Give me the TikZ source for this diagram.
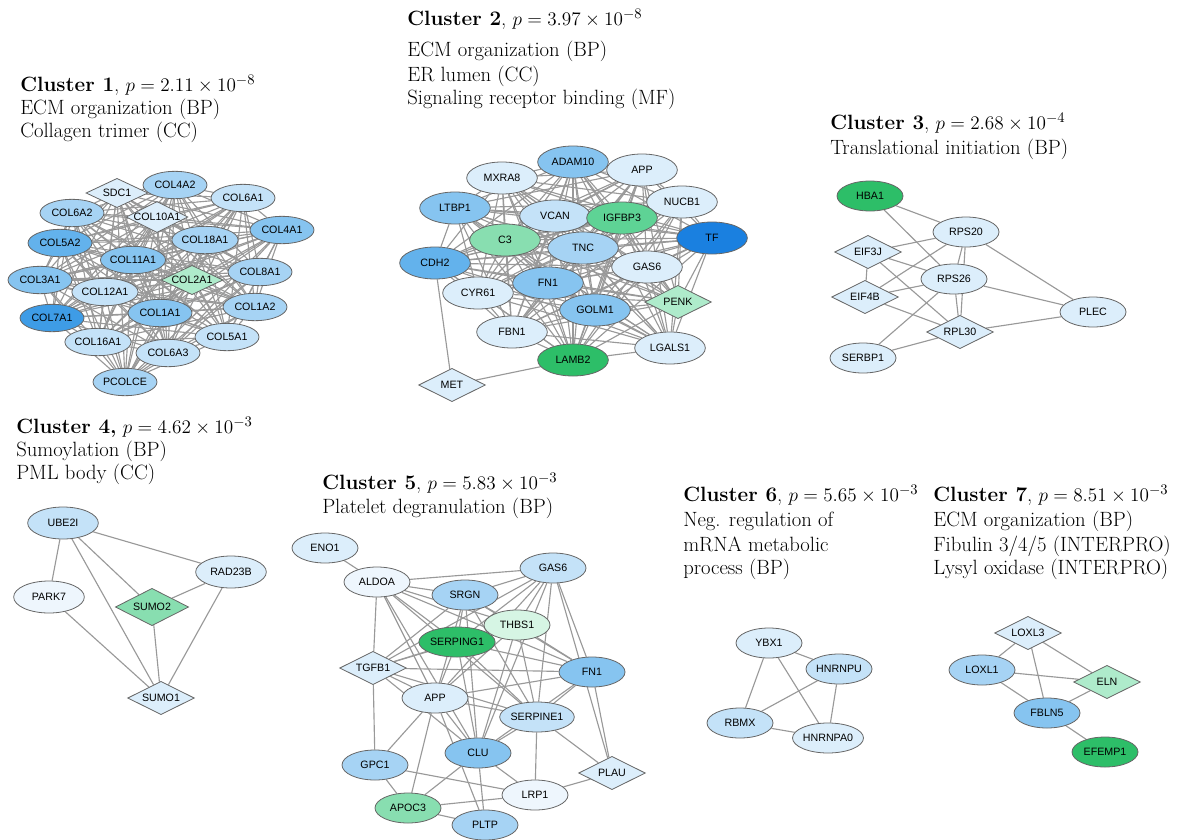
\documentclass[tikz,border=0pt]{standalone}
\usepackage{fontspec}
\newfontfamily\genefont{Liberation Sans}
\usetikzlibrary{shapes.geometric,backgrounds}

\definecolor{blue0}{HTML}{EEF6FD}
\definecolor{blue1}{HTML}{DCEEFB}
\definecolor{blue2}{HTML}{C4E2F8}
\definecolor{blue3}{HTML}{A6D3F4}
\definecolor{blue4}{HTML}{86C4F0}
\definecolor{blue5}{HTML}{63B2EC}
\definecolor{blue6}{HTML}{3E9CE6}
\definecolor{blue7}{HTML}{1A80E0}
\definecolor{green1}{HTML}{D6F5E4}
\definecolor{green2}{HTML}{AEEBCB}
\definecolor{green3}{HTML}{88DEB0}
\definecolor{green4}{HTML}{5ED395}
\definecolor{green5}{HTML}{2DBE68}

\tikzset{
  gene/.style={ellipse, draw=black!60, line width=0.6pt, inner sep=0pt,
    minimum width=49.5pt, minimum height=22.5pt, font=\genefont\fontsize{8}{9}\selectfont},
  genesmall/.style={gene, minimum width=48pt, minimum height=20.5pt},
  genebig/.style={gene, minimum width=53pt, minimum height=24pt},
  genedia/.style={gene, diamond, aspect=2, minimum width=50pt, minimum height=25pt},
  genediasmall/.style={genedia, minimum width=46.5pt, minimum height=22pt},
  genediabig/.style={genedia, minimum width=55pt, minimum height=28pt},
  link/.style={draw=black!40, line width=0.85pt},
  title/.style={anchor=base west, inner sep=0pt, font=\fontsize{15.5}{18}\selectfont},
}

\def\clusterone{SDC1,COL4A2,COL6A1,COL6A2,COL10A1,COL4A1,COL18A1,COL5A2,COL11A1,COL3A1,COL2A1,COL8A1,COL12A1,COL1A1,COL1A2,COL7A1,COL16A1,COL5A1,COL6A3,PCOLCE}
\def\clustertwo{ADAM10,APP,MXRA8,NUCB1,LTBP1,VCAN,IGFBP3,C3,TF,TNC,CDH2,GAS6,FN1,CYR61,PENK,GOLM1,FBN1,LGALS1,LAMB2}

\begin{document}
\begin{tikzpicture}[x=0.75pt,y=-0.75pt]
\useasboundingbox (0,0) rectangle (1195,839);

% titles
\node[title] (t1a) at (20,91) {\textbf{Cluster 1}, $p = 2.11 \times 10^{-8}$};
\node[title] (t1b) at (20,114) {ECM organization (BP)};
\node[title] (t1c) at (20,137) {Collagen trimer (CC)};
\node[title] (t2a) at (407,25) {\textbf{Cluster 2}, $p = 3.97 \times 10^{-8}$};
\node[title] (t2b) at (407,56) {ECM organization (BP)};
\node[title] (t2c) at (407,81) {ER lumen (CC)};
\node[title] (t2d) at (407,104) {Signaling receptor binding (MF)};
\node[title] (t3a) at (830,129) {\textbf{Cluster 3}, $p = 2.68 \times 10^{-4}$};
\node[title] (t3b) at (830,154) {Translational initiation (BP)};
\node[title] (t4a) at (16,433) {\textbf{Cluster 4,} $p = 4.62 \times 10^{-3}$};
\node[title] (t4b) at (16,456) {Sumoylation (BP)};
\node[title] (t4c) at (16,479) {PML body (CC)};
\node[title] (t5a) at (322,489) {\textbf{Cluster 5}, $p = 5.83 \times 10^{-3}$};
\node[title] (t5b) at (322,513) {Platelet degranulation (BP)};
\node[title] (t6a) at (683,501) {\textbf{Cluster 6}, $p = 5.65 \times 10^{-3}$};
\node[title] (t6b) at (683,526) {Neg. regulation of};
\node[title] (t6c) at (683,551) {mRNA metabolic};
\node[title] (t6d) at (683,574) {process (BP)};
\node[title] (t7a) at (933,501) {\textbf{Cluster 7}, $p = 8.51 \times 10^{-3}$};
\node[title] (t7b) at (933,526) {ECM organization (BP)};
\node[title] (t7c) at (933,551) {Fibulin 3/4/5 (INTERPRO)};
\node[title] (t7d) at (933,574) {Lysyl oxidase (INTERPRO)};

% cluster 1
\node[genediasmall, fill=blue1] (SDC1) at (117,193) {SDC1};
\node[genesmall, fill=blue3] (COL4A2) at (175,185) {COL4A2};
\node[genesmall, fill=blue2] (COL6A1) at (243,198) {COL6A1};
\node[genesmall, fill=blue3] (COL6A2) at (72,213) {COL6A2};
\node[genediasmall, fill=blue1] (COL10A1) at (157,217) {COL10A1};
\node[genesmall, fill=blue4] (COL4A1) at (282,230) {COL4A1};
\node[genesmall, fill=blue3] (COL18A1) at (205,240) {COL18A1};
\node[genesmall, fill=blue5] (COL5A2) at (60,243) {COL5A2};
\node[genesmall, fill=blue4] (COL11A1) at (133,260) {COL11A1};
\node[genesmall, fill=blue4] (COL3A1) at (40,280) {COL3A1};
\node[genediasmall, fill=green2] (COL2A1) at (192,280) {COL2A1};
\node[genesmall, fill=blue3] (COL8A1) at (260,272) {COL8A1};
\node[genesmall, fill=blue2] (COL12A1) at (105,292) {COL12A1};
\node[genesmall, fill=blue4] (COL1A1) at (160,313) {COL1A1};
\node[genesmall, fill=blue3] (COL1A2) at (255,307) {COL1A2};
\node[genesmall, fill=blue6] (COL7A1) at (52,318) {COL7A1};
\node[genesmall, fill=blue2] (COL16A1) at (98,342) {COL16A1};
\node[genesmall, fill=blue2] (COL5A1) at (227,337) {COL5A1};
\node[genesmall, fill=blue2] (COL6A3) at (168,353) {COL6A3};
\node[genesmall, fill=blue3] (PCOLCE) at (125,382) {PCOLCE};

% cluster 2
\node[genebig, fill=blue4] (ADAM10) at (573,162) {ADAM10};
\node[genebig, fill=blue1] (APP) at (642,170) {APP};
\node[genebig, fill=blue1] (MXRA8) at (502,178) {MXRA8};
\node[genebig, fill=blue1] (NUCB1) at (682,202) {NUCB1};
\node[genebig, fill=blue4] (LTBP1) at (455,208) {LTBP1};
\node[genebig, fill=blue2] (VCAN) at (555,216) {VCAN};
\node[genebig, fill=green4] (IGFBP3) at (622,218) {IGFBP3};
\node[genebig, fill=green3] (C3) at (505,240) {C3};
\node[genebig, fill=blue7] (TF) at (712,238) {TF};
\node[genebig, fill=blue3] (TNC) at (583,248) {TNC};
\node[genebig, fill=blue5] (CDH2) at (435,263) {CDH2};
\node[genebig, fill=blue1] (GAS6) at (647,267) {GAS6};
\node[genebig, fill=blue4] (FN1) at (548,283) {FN1};
\node[genebig, fill=blue1] (CYR61) at (478,293) {CYR61};
\node[genedia, fill=green2] (PENK) at (678,302) {PENK};
\node[genebig, fill=blue4] (GOLM1) at (595,310) {GOLM1};
\node[genebig, fill=blue1] (FBN1) at (512,332) {FBN1};
\node[genebig, fill=blue1] (LGALS1) at (670,348) {LGALS1};
\node[genebig, fill=green5] (LAMB2) at (573,360) {LAMB2};
\node[genedia, fill=blue1] (MET) at (452,385) {MET};

% cluster 3
\node[gene, fill=green5] (HBA1) at (870,196) {HBA1};
\node[gene, fill=blue1] (RPS20) at (966,232) {RPS20};
\node[genedia, fill=blue1] (EIF3J) at (868,252) {EIF3J};
\node[gene, fill=blue1] (RPS26) at (954,279) {RPS26};
\node[genedia, fill=blue1] (EIF4B) at (865,297) {EIF4B};
\node[gene, fill=blue1] (PLEC) at (1093,312) {PLEC};
\node[genedia, fill=blue1] (RPL30) at (960,332) {RPL30};
\node[gene, fill=blue1] (SERBP1) at (863,358) {SERBP1};

% cluster 4
\node[genebig, fill=blue2] (UBE2I) at (63,523) {UBE2I};
\node[genebig, fill=blue1] (RAD23B) at (231,572) {RAD23B};
\node[genebig, fill=blue0] (PARK7) at (49,597) {PARK7};
\node[genediabig, fill=green3] (SUMO2) at (152,607) {SUMO2};
\node[genedia, fill=blue1] (SUMO1) at (161,698) {SUMO1};

% cluster 5
\node[gene, fill=blue1] (ENO1) at (325,548) {ENO1};
\node[gene, fill=blue2] (GAS6b) at (553,568) {GAS6};
\node[gene, fill=blue0] (ALDOA) at (377,582) {ALDOA};
\node[gene, fill=blue3] (SRGN) at (465,595) {SRGN};
\node[gene, fill=green1] (THBS1) at (517,625) {THBS1};
\node[gene, fill=green5] (SERPING1) at (457,642) {SERPING1};
\node[genedia, fill=blue1] (TGFB1) at (373,668) {TGFB1};
\node[gene, fill=blue4] (FN1b) at (592,672) {FN1};
\node[gene, fill=blue1] (APPb) at (435,698) {APP};
\node[gene, fill=blue2] (SERPINE1) at (537,717) {SERPINE1};
\node[gene, fill=blue4] (CLU) at (478,753) {CLU};
\node[gene, fill=blue3] (GPC1) at (375,765) {GPC1};
\node[genedia, fill=blue1] (PLAU) at (612,773) {PLAU};
\node[gene, fill=blue0] (LRP1) at (535,795) {LRP1};
\node[gene, fill=green3] (APOC3) at (408,808) {APOC3};
\node[gene, fill=blue3] (PLTP) at (485,825) {PLTP};

% cluster 6
\node[gene, fill=blue1] (YBX1) at (769,643) {YBX1};
\node[gene, fill=blue2] (HNRNPU) at (839,669) {HNRNPU};
\node[gene, fill=blue2] (RBMX) at (740,723) {RBMX};
\node[gene, fill=blue1] (HNRNPA0) at (828,738) {HNRNPA0};

% cluster 7
\node[genedia, fill=blue1] (LOXL3) at (1028,633) {LOXL3};
\node[gene, fill=blue3] (LOXL1) at (982,670) {LOXL1};
\node[genedia, fill=green2] (ELN) at (1107,682) {ELN};
\node[gene, fill=blue4] (FBLN5) at (1047,713) {FBLN5};
\node[gene, fill=green5] (EFEMP1) at (1105,752) {EFEMP1};

\begin{pgfonlayer}{background}
% dense clusters: every pair
\foreach \a [count=\i] in \clusterone {
  \foreach \b [count=\j] in \clusterone {
    \ifnum\j>\i \draw[link] (\a) -- (\b); \fi
  }
}
\foreach \a [count=\i] in \clustertwo {
  \foreach \b [count=\j] in \clustertwo {
    \ifnum\j>\i \draw[link] (\a) -- (\b); \fi
  }
}
\draw[link] (MET) -- (CDH2);
\draw[link] (MET) -- (LAMB2);
% sparse clusters
\foreach \a/\b in {HBA1/RPS20, HBA1/RPS26, EIF3J/RPS20, EIF3J/RPS26, EIF3J/RPL30,
    EIF3J/EIF4B, EIF4B/RPS20, EIF4B/RPS26, EIF4B/RPL30, SERBP1/RPS26, SERBP1/RPL30,
    RPS20/RPS26, RPS26/RPL30, RPS20/RPL30, RPS20/PLEC, RPS26/PLEC, RPL30/PLEC,
    UBE2I/PARK7, UBE2I/SUMO1, UBE2I/SUMO2, UBE2I/RAD23B, RAD23B/SUMO2, RAD23B/SUMO1,
    PARK7/SUMO1, SUMO2/SUMO1,
    ENO1/ALDOA, ALDOA/GAS6b, ALDOA/SRGN, ALDOA/SERPING1, ALDOA/TGFB1, ALDOA/APPb,
    ALDOA/CLU, ALDOA/SERPINE1, ALDOA/FN1b, ALDOA/THBS1,
    GAS6b/SRGN, GAS6b/THBS1, GAS6b/SERPING1, GAS6b/TGFB1, GAS6b/APPb, GAS6b/CLU,
    GAS6b/SERPINE1, GAS6b/FN1b, GAS6b/PLAU,
    SRGN/THBS1, SRGN/SERPING1, SRGN/TGFB1, SRGN/APPb, SRGN/CLU, SRGN/SERPINE1, SRGN/FN1b,
    THBS1/SERPING1, THBS1/TGFB1, THBS1/APPb, THBS1/CLU, THBS1/SERPINE1, THBS1/FN1b,
    SERPING1/TGFB1, SERPING1/APPb, SERPING1/CLU, SERPING1/SERPINE1, SERPING1/FN1b,
    TGFB1/FN1b, TGFB1/APPb, TGFB1/SERPINE1, TGFB1/CLU, TGFB1/GPC1,
    FN1b/APPb, FN1b/SERPINE1, FN1b/CLU, FN1b/PLAU,
    APPb/SERPINE1, APPb/CLU, APPb/GPC1, APPb/APOC3, APPb/PLTP,
    SERPINE1/CLU, SERPINE1/LRP1, SERPINE1/PLAU,
    CLU/APOC3, CLU/PLTP, CLU/LRP1, GPC1/LRP1, GPC1/APOC3,
    LRP1/PLAU, LRP1/APOC3, APOC3/PLTP,
    YBX1/HNRNPU, YBX1/RBMX, YBX1/HNRNPA0, HNRNPU/RBMX, HNRNPU/HNRNPA0, RBMX/HNRNPA0,
    LOXL3/LOXL1, LOXL3/ELN, LOXL3/FBLN5, LOXL1/ELN, LOXL1/FBLN5, ELN/FBLN5, FBLN5/EFEMP1}
  \draw[link] (\a) -- (\b);
\end{pgfonlayer}
\end{tikzpicture}
\end{document}
